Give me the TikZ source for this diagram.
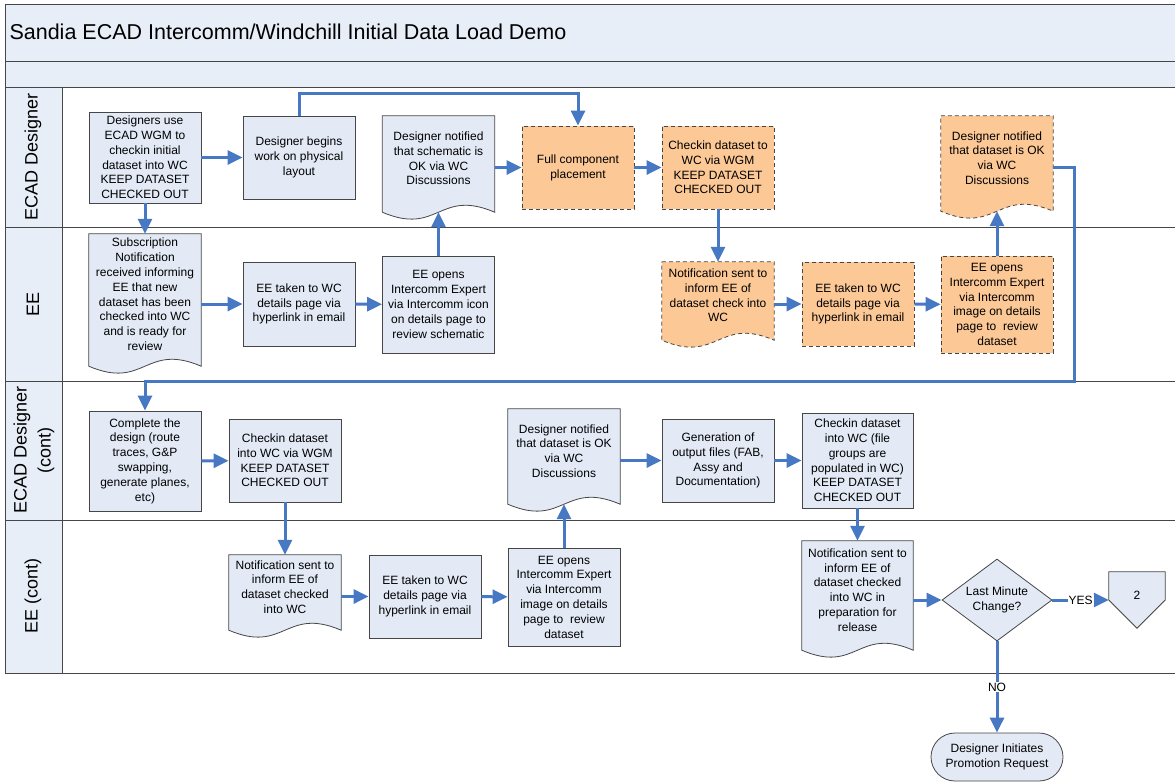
\documentclass[tikz,border=0pt]{standalone}
\usepackage{fontspec}
\setmainfont{Liberation Sans}
\usetikzlibrary{shapes.geometric,arrows.meta,calc}
\definecolor{lanefill}{RGB}{232,238,247}
\definecolor{boxfill}{RGB}{227,234,246}
\definecolor{peach}{RGB}{252,200,150}
\definecolor{flowblue}{RGB}{70,120,196}
\definecolor{edgegrey}{RGB}{70,70,70}
\pgfdeclarelayer{docs}
\pgfsetlayers{docs,main}
\tikzset{
  txt/.style={font=\fontsize{12}{14.8}\selectfont},
  box/.style={txt, draw=edgegrey, fill=boxfill, line width=0.8pt, align=center, minimum width=112pt, inner sep=1pt},
  hot/.style={fill=peach, dash pattern=on 4pt off 3pt},
  doc/.style={txt, align=center, minimum width=112pt, inner sep=1pt},
  flow/.style={draw=flowblue, line width=3pt, -{Triangle[length=15pt,width=14pt]}},
  ans/.style={txt, fill=white, inner sep=1pt},
  lane/.style={font=\fontsize{18}{24}\selectfont, rotate=90, align=center}
}
% document shape: wavy bottom, drawn under the text
\newcommand\docshape[2][]{%
  \begin{pgfonlayer}{docs}
  \draw[draw=edgegrey, fill=boxfill, line width=0.8pt, #1]
    (#2.north west) -- (#2.north east) -- ($(#2.south east)+(0,11)$)
    .. controls ($(#2.south)+(0,-13)$) and ($(#2.south)+(0,35)$) .. ($(#2.south west)+(0,11)$) -- cycle;
  \end{pgfonlayer}
  \coordinate (#2-b) at ($(#2.south)+(0,11)$)}

\begin{document}
\begin{tikzpicture}[x=1pt,y=-1pt]
\useasboundingbox (0,0) rectangle (1175,782);
\clip (0,0) rectangle (1175,782);
% frame and lanes
\fill[lanefill] (5,4) rectangle (1180,87);
\fill[lanefill] (5,87) rectangle (62,673);
\draw[edgegrey, line width=1pt] (5,4) rectangle (1180,673);
\foreach \y in {61,87,227,381,520} \draw[edgegrey, line width=1pt] (5,\y) -- (1180,\y);
\draw[edgegrey, line width=1pt] (62,87) -- (62,673);
\node[anchor=west, font=\fontsize{21.5}{25}\selectfont] (title) at (6,32) {Sandia ECAD Intercomm/Windchill Initial Data Load Demo};
\node[lane] (laneA) at (33,157) {ECAD Designer};
\node[lane] (laneB) at (33,304) {EE};
\node[lane] (laneC) at (34,450) {ECAD Designer\\(cont)};
\node[lane] (laneD) at (33,596) {EE (cont)};

% ECAD Designer
\node[box, minimum height=91pt] (dsgnUse) at (145,157.5) {Designers use\\ECAD WGM to\\checkin initial\\dataset into WC\\KEEP DATASET\\CHECKED OUT};
\node[box, minimum height=83pt] (physLay) at (299,157.5) {Designer begins\\work on physical\\layout};
\node[doc, minimum height=85pt] (schemOK) at (438.5,158.5) {Designer notified\\that schematic is\\OK via WC\\Discussions};
\docshape{schemOK};
\node[box, hot, minimum height=83pt] (placeComp) at (578,167.5) {Full component\\placement};
\node[box, hot, minimum height=83pt] (chkWGM) at (718,167.5) {Checkin dataset to\\WC via WGM\\KEEP DATASET\\CHECKED OUT};
\node[doc, minimum height=84pt] (dataOK) at (997,158) {Designer notified\\that dataset is OK\\via WC\\Discussions};
\docshape[hot]{dataOK};

% EE
\node[doc, minimum height=121pt] (subNote) at (145,294.5) {Subscription\\Notification\\received informing\\EE that new\\dataset has been\\checked into WC\\and is ready for\\review};
\docshape{subNote};
\node[box, minimum height=84pt] (eeWC) at (299,304) {EE taken to WC\\details page via\\hyperlink in email};
\node[box, minimum height=97pt] (eeOpen) at (438.5,304.5) {EE opens\\Intercomm Expert\\via Intercomm icon\\on details page to\\review schematic};
\node[doc, minimum height=67pt] (noteChk) at (718,295.5) {Notification sent to\\inform EE of\\dataset check into\\WC};
\docshape[hot]{noteChk};
\node[box, hot, minimum height=84pt] (eeWCb) at (858,304) {EE taken to WC\\details page via\\hyperlink in email};
\node[box, hot, minimum height=97pt] (eeOpenb) at (997,304.5) {EE opens\\Intercomm Expert\\via Intercomm\\image on details\\page to\ \ review\\dataset};

% ECAD Designer (cont)
\node[box, minimum height=100pt] (compDes) at (145,461) {Complete the\\design (route\\traces, G\&P\\swapping,\\generate planes,\\etc)};
\node[box, minimum height=83pt] (chkWGMc) at (285,460.5) {Checkin dataset\\into WC via WGM\\KEEP DATASET\\CHECKED OUT};
\node[doc, minimum height=84pt] (dataOKc) at (564,451) {Designer notified\\that dataset is OK\\via WC\\Discussions};
\docshape{dataOKc};
\node[box, minimum height=83pt] (genOut) at (718,460.5) {Generation of\\output files (FAB,\\Assy and\\Documentation)};
\node[box, minimum width=111pt, minimum height=95pt] (chkFiles) at (857.5,460.5) {Checkin dataset\\into WC (file\\groups are\\populated in WC)\\KEEP DATASET\\CHECKED OUT};

% EE (cont)
\node[doc, minimum height=64pt] (noteChkc) at (285,587) {Notification sent to\\inform EE of\\dataset checked\\into WC};
\docshape{noteChkc};
\node[box, minimum height=83pt] (eeWCc) at (425,596.5) {EE taken to WC\\details page via\\hyperlink in email};
\node[box, minimum height=98pt] (eeOpenc) at (564,597) {EE opens\\Intercomm Expert\\via Intercomm\\image on details\\page to\ \ review\\dataset};
\node[doc, minimum width=111pt, minimum height=98pt] (noteRel) at (857.5,590) {Notification sent to\\inform EE of\\dataset checked\\into WC in\\preparation for\\release};
\docshape{noteRel};
\node[box, diamond, minimum width=110pt, minimum height=82pt, aspect=1.34, inner sep=0pt] (lastChg) at (997,600) {Last Minute\\Change?};
\node[txt, minimum width=56pt, minimum height=56pt, inner sep=0pt] (pgTwo) at (1137,600) {\raisebox{9pt}{2}};
\begin{pgfonlayer}{docs}
\draw[draw=edgegrey, fill=boxfill, line width=0.8pt] (pgTwo.north west) -- (pgTwo.north east) -- (pgTwo.east) -- (pgTwo.south) -- (pgTwo.west) -- cycle;
\end{pgfonlayer}
\node[box, rounded corners=24pt, minimum width=132pt, minimum height=48pt] (promReq) at (997,757) {Designer Initiates\\Promotion Request};

% connectors
\draw[flow] (dsgnUse) -- (physLay);
\draw[flow] (dsgnUse) -- (subNote);
\draw[flow] (physLay.north) -- ++(0,-22) -| (placeComp.north);
\draw[flow] (subNote.east |- eeWC) -- (eeWC);
\draw[flow] (eeWC) -- (eeOpen);
\draw[flow] (eeOpen.north) -- (schemOK-b);
\draw[flow] (schemOK.east |- placeComp) -- (placeComp);
\draw[flow] (placeComp) -- (chkWGM);
\draw[flow] (chkWGM) -- (noteChk);
\draw[flow] (noteChk.east |- eeWCb) -- (eeWCb);
\draw[flow] (eeWCb) -- (eeOpenb);
\draw[flow] (eeOpenb.north) -- (dataOK-b);
\coordinate (loopTurn) at (1074,381);
\draw[flow] (dataOK.east |- placeComp) -| (loopTurn) -| (compDes.north);
\draw[flow] (compDes) -- (chkWGMc);
\draw[flow] (chkWGMc) -- (noteChkc);
\draw[flow] (noteChkc.east |- eeWCc) -- (eeWCc);
\draw[flow] (eeWCc) -- (eeOpenc);
\draw[flow] (eeOpenc.north) -- (dataOKc-b);
\draw[flow] (dataOKc.east |- genOut) -- (genOut);
\draw[flow] (genOut) -- (chkFiles);
\draw[flow] (chkFiles) -- (noteRel);
\draw[flow] (noteRel.east |- lastChg) -- (lastChg);
\draw[flow] (lastChg) -- node[ans] {YES} (pgTwo.west);
\draw[flow] (lastChg) -- node[ans] {NO} (promReq);
\end{tikzpicture}
\end{document}
